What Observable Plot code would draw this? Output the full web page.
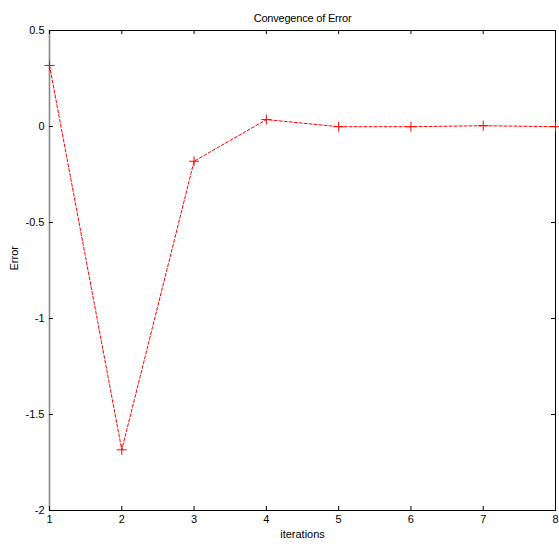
<!DOCTYPE html>
<html>
<head>
<meta charset="utf-8">
<script src="https://cdn.jsdelivr.net/npm/d3@7"></script>
<script src="https://cdn.jsdelivr.net/npm/@observablehq/plot@0.6"></script>
<style>
  html, body { margin: 0; padding: 0; background: #fff; }
  svg { display: block; }
</style>
</head>
<body>
<div id="chart"></div>
<script>
// Error after each iteration
const iterations = [1, 2, 3, 4, 5, 6, 7, 8];
const errors = [0.318, -1.684, -0.181, 0.036, -0.001, -0.001, 0.004, -0.001];

const xTicks = [1, 2, 3, 4, 5, 6, 7, 8];
const yTicks = [-2, -1.5, -1, -0.5, 0, 0.5];

const titleText = "Convegence of Error";

const data = iterations.map((it, i) => ({ it, err: errors[i] }));

const W = 559, H = 544;
const mL = 49, mR = 4, mT = 30, mB = 34;
const plotW = W - mL - mR, plotH = H - mT - mB;
const tick = 4;
const fmt = d => String(d);

// "+" marker drawn as a stroked cross
const cross = {
  draw(ctx, size) {
    const r = Math.sqrt(size / Math.PI);
    ctx.moveTo(-r, 0); ctx.lineTo(r, 0);
    ctx.moveTo(0, -r); ctx.lineTo(0, r);
  }
};

const chart = Plot.plot({
  width: W,
  height: H,
  marginLeft: mL,
  marginRight: mR,
  marginTop: mT,
  marginBottom: mB,
  style: { fontFamily: "Liberation Sans, Arial, sans-serif", fontSize: "11px", color: "#000", background: "#fff" },
  x: { domain: [1, 8], label: null },
  y: { domain: [-2, 0.5], label: null },
  marks: [
    Plot.frame({ stroke: "#000", strokeWidth: 1 }),
    Plot.ruleX([1], { stroke: "#888", strokeWidth: 1.6 }),
    // inward ticks on all four sides
    Plot.ruleX(xTicks, { stroke: "#000", insetTop: plotH - tick }),
    Plot.ruleX(xTicks, { stroke: "#000", insetBottom: plotH - tick }),
    Plot.ruleY(yTicks, { stroke: "#000", insetRight: plotW - tick }),
    Plot.ruleY(yTicks, { stroke: "#000", insetLeft: plotW - tick }),
    Plot.axisX({ ticks: xTicks, tickFormat: fmt, tickSize: 0, tickPadding: 5, fontSize: 11, label: null }),
    Plot.axisY({ ticks: yTicks, tickFormat: fmt, tickSize: 0, tickPadding: 5, fontSize: 11, label: null }),
    Plot.line(data, { x: "it", y: "err", stroke: "red", strokeWidth: 1, strokeDasharray: "3,2" }),
    Plot.dot(data, { x: "it", y: "err", symbol: cross, r: 5, stroke: "red", strokeWidth: 1, fill: "none" }),
    // title and axis labels
    Plot.text([titleText], { frameAnchor: "top", dy: -16, fontSize: 11, fill: "#000", textAnchor: "middle" }),
    Plot.text(["iterations"], { frameAnchor: "bottom", dy: 27, fontSize: 11, fill: "#000" }),
    Plot.text(["Error"], { frameAnchor: "left", dx: -35, rotate: -90, fontSize: 11, fill: "#000" })
  ]
});

// slightly tighter title lettering
d3.select(chart).selectAll("text")
  .filter(function () { return this.textContent === titleText; })
  .style("letter-spacing", "-0.2px");

document.getElementById("chart").appendChild(chart);
</script>
</body>
</html>
